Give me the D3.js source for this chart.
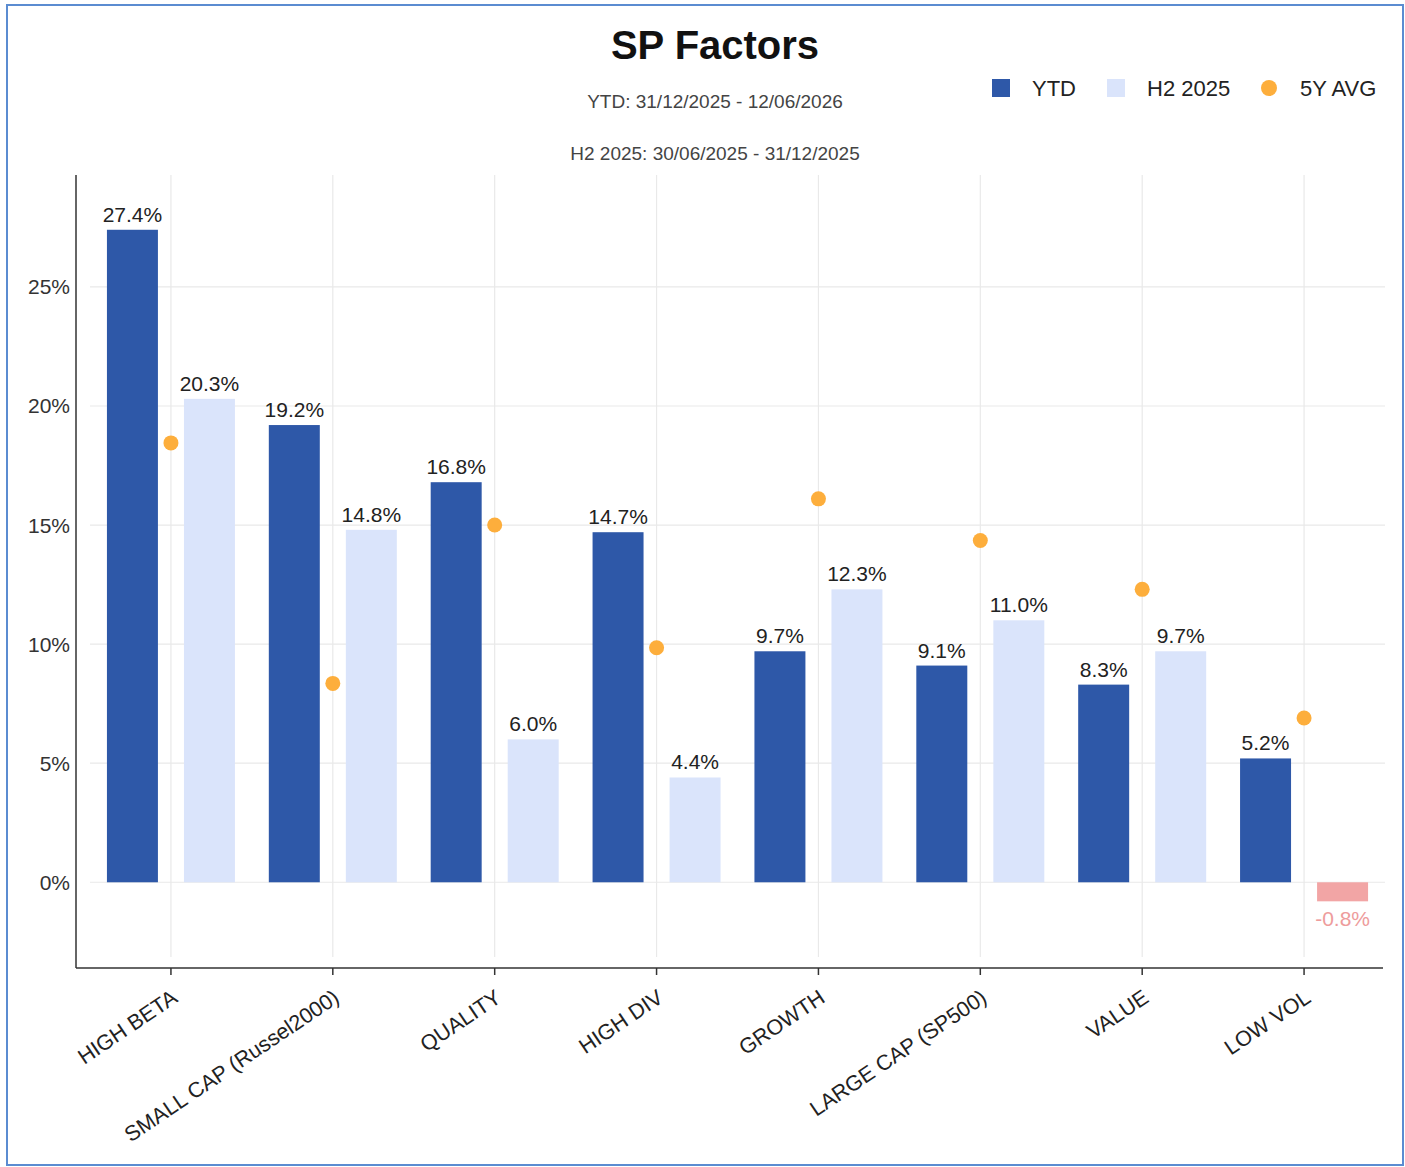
<!DOCTYPE html>
<html>
<head>
<meta charset="utf-8">
<script src="https://cdn.jsdelivr.net/npm/d3@7"></script>
<style>
  html, body { margin: 0; padding: 0; background: #fff; }
  svg { display: block; font-family: Arial, "Liberation Sans", Helvetica, sans-serif; }
</style>
</head>
<body>
<svg id="chart" width="1405" height="1167"></svg>
<script>
// Factor names and returns (%)
const categories = ["HIGH BETA", "SMALL CAP (Russel2000)", "QUALITY", "HIGH DIV", "GROWTH", "LARGE CAP (SP500)", "VALUE", "LOW VOL"];
const ytd    = [27.4, 19.2, 16.8, 14.7, 9.7, 9.1, 8.3, 5.2];
const h2     = [20.3, 14.8, 6.0, 4.4, 12.3, 11.0, 9.7, -0.8];
const avg5y  = [18.45, 8.35, 15.0, 9.85, 16.1, 14.35, 12.3, 6.9];
const yTicks = [0, 5, 10, 15, 20, 25];
const seriesNames = ["YTD", "H2 2025", "5Y AVG"];

const colors = { ytd: "#2E58A8", h2: "#DAE4FB", neg: "#F2A5A5", negText: "#EE9C9C", avg: "#FDAE3C", grid: "#E9E9E9", axis: "#333" };

const svg = d3.select("#chart");

// page frame
svg.append("rect").attr("x", 7).attr("y", 5).attr("width", 1396).attr("height", 1160)
  .attr("fill", "none").attr("stroke", "#5B8CD1").attr("stroke-width", 2);

const plot = { left: 76, right: 1383, top: 175, bottom: 968 };

const x = d3.scaleBand().domain(categories).range([90, 1385]).padding(0);
const xSub = d3.scaleBand().domain(["ytd", "h2"]).range([-64, 64]).paddingInner(0.338).paddingOuter(0);
const y = d3.scaleLinear().domain([-3.6, 29.7]).range([plot.bottom, plot.top]);
const cx = c => x(c) + x.bandwidth() / 2;
const fmt = v => (v < 0 ? "-" : "") + d3.format(".1f")(Math.abs(v)) + "%";

// grid
const grid = svg.append("g");
grid.selectAll("line.h").data(yTicks).join("line")
  .attr("x1", 90).attr("x2", 1385)
  .attr("y1", d => y(d)).attr("y2", d => y(d))
  .attr("stroke", colors.grid).attr("stroke-width", 1.2);
grid.selectAll("line.v").data(categories).join("line")
  .attr("x1", cx).attr("x2", cx)
  .attr("y1", plot.top).attr("y2", 957)
  .attr("stroke", colors.grid).attr("stroke-width", 1.2);

// bars
const rows = categories.map((c, i) => ({ c, ytd: ytd[i], h2: h2[i], avg: avg5y[i] }));
const bars = [];
rows.forEach(r => {
  bars.push({ c: r.c, key: "ytd", v: r.ytd });
  bars.push({ c: r.c, key: "h2", v: r.h2 });
});

svg.append("g").selectAll("rect").data(bars).join("rect")
  .attr("x", d => cx(d.c) + xSub(d.key))
  .attr("width", xSub.bandwidth())
  .attr("y", d => y(Math.max(0, d.v)))
  .attr("height", d => Math.abs(y(d.v) - y(0)))
  .attr("fill", d => d.v < 0 ? colors.neg : colors[d.key]);

// value labels
svg.append("g").selectAll("text").data(bars).join("text")
  .attr("x", d => cx(d.c) + xSub(d.key) + xSub.bandwidth() / 2)
  .attr("y", d => d.v < 0 ? y(d.v) + 25 : y(d.v) - 8)
  .attr("text-anchor", "middle")
  .attr("font-size", 21)
  .attr("fill", d => d.v < 0 ? colors.negText : "#222")
  .text(d => fmt(d.v));

// 5Y average markers
svg.append("g").selectAll("circle").data(rows).join("circle")
  .attr("cx", d => cx(d.c)).attr("cy", d => y(d.avg)).attr("r", 7.5)
  .attr("fill", colors.avg);

// y axis
svg.append("line").attr("x1", plot.left).attr("x2", plot.left)
  .attr("y1", plot.top).attr("y2", plot.bottom).attr("stroke", colors.axis).attr("stroke-width", 1.5);
svg.append("g").selectAll("text").data(yTicks).join("text")
  .attr("x", 70).attr("y", d => y(d) + 7.5)
  .attr("text-anchor", "end").attr("font-size", 21).attr("fill", "#333")
  .text(d => d + "%");

// x axis
svg.append("line").attr("x1", plot.left).attr("x2", plot.right)
  .attr("y1", plot.bottom).attr("y2", plot.bottom).attr("stroke", colors.axis).attr("stroke-width", 1.5);
const xt = svg.append("g").selectAll("g").data(categories).join("g")
  .attr("transform", d => `translate(${cx(d)},${plot.bottom})`);
xt.append("line").attr("y1", 0).attr("y2", 7).attr("stroke", colors.axis).attr("stroke-width", 1.5);
xt.append("text")
  .attr("transform", "translate(8,33) rotate(-34)")
  .attr("text-anchor", "end").attr("font-size", 21.5).attr("fill", "#222")
  .text(d => d);

// title and subtitles
svg.append("text").attr("x", 715).attr("y", 59).attr("text-anchor", "middle")
  .attr("font-size", 40).attr("font-weight", "bold").attr("fill", "#111").text("SP Factors");
svg.append("text").attr("x", 715).attr("y", 108).attr("text-anchor", "middle")
  .attr("font-size", 19).attr("fill", "#444").text("YTD: 31/12/2025 - 12/06/2026");
svg.append("text").attr("x", 715).attr("y", 160).attr("text-anchor", "middle")
  .attr("font-size", 19).attr("fill", "#444").text("H2 2025: 30/06/2025 - 31/12/2025");

// legend
const legend = svg.append("g");
const legendItems = [
  { name: seriesNames[0], type: "rect", color: colors.ytd, x: 992, tx: 1032 },
  { name: seriesNames[1], type: "rect", color: colors.h2, x: 1107, tx: 1147 },
  { name: seriesNames[2], type: "circle", color: colors.avg, x: 1260, tx: 1300 }
];
legendItems.forEach(it => {
  if (it.type === "rect") {
    legend.append("rect").attr("x", it.x).attr("y", 79).attr("width", 18).attr("height", 18).attr("fill", it.color);
  } else {
    legend.append("circle").attr("cx", it.x + 9).attr("cy", 88).attr("r", 8).attr("fill", it.color);
  }
  legend.append("text").attr("x", it.tx).attr("y", 96).attr("font-size", 22).attr("fill", "#222").text(it.name);
});
</script>
</body>
</html>
